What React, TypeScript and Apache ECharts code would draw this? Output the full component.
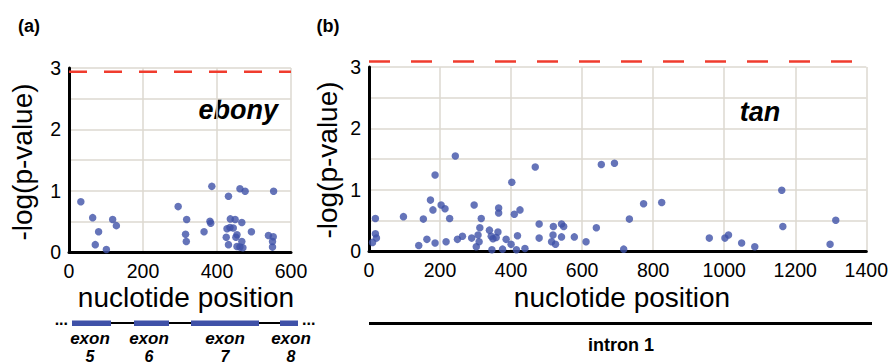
import React, { useEffect, useRef } from "react";
import * as echarts from "echarts";

// ---- data ----
const ebonyPos = [32, 64, 80, 71, 101, 118, 128, 295, 318, 315, 317, 365, 381, 383, 386, 431, 462, 476, 553, 436, 449, 467, 427, 435, 444, 425, 454, 451, 431, 467, 454, 462, 470, 493, 539, 552, 550, 550];
const ebonyLogP = [0.82, 0.56, 0.33, 0.12, 0.04, 0.53, 0.43, 0.74, 0.53, 0.29, 0.17, 0.33, 0.50, 0.47, 1.07, 0.91, 1.03, 0.99, 0.99, 0.54, 0.53, 0.48, 0.38, 0.40, 0.39, 0.24, 0.28, 0.24, 0.12, 0.17, 0.09, 0.08, 0.07, 0.33, 0.27, 0.25, 0.17, 0.08];

const tanPos = [10, 18, 18, 21, 97, 140, 153, 163, 173, 180, 186, 186, 203, 214, 217, 227, 243, 249, 263, 289, 296, 302, 307, 310, 312, 316, 339, 344, 349, 346, 358, 363, 365, 365, 376, 386, 400, 402, 409, 415, 418, 425, 439, 468, 479, 479, 514, 518, 519, 525, 542, 542, 548, 578, 611, 640, 654, 691, 717, 733, 773, 824, 958, 1002, 1012, 1049, 1086, 1162, 1165, 1298, 1314];
const tanLogP = [0.14, 0.53, 0.28, 0.21, 0.56, 0.09, 0.52, 0.19, 0.83, 0.67, 1.24, 0.13, 0.75, 0.69, 0.15, 0.53, 1.55, 0.19, 0.24, 0.21, 0.75, 0.07, 0.26, 0.15, 0.38, 0.53, 0.34, 0.24, 0.20, 0.02, 0.22, 0.31, 0.70, 0.62, 0.03, 0.19, 0.11, 1.12, 0.60, 0.02, 0.25, 0.67, 0.04, 1.37, 0.44, 0.21, 0.15, 0.26, 0.40, 0.11, 0.23, 0.44, 0.40, 0.23, 0.15, 0.38, 1.41, 1.43, 0.03, 0.52, 0.77, 0.79, 0.21, 0.21, 0.26, 0.13, 0.07, 0.99, 0.40, 0.11, 0.50];

const ebonyThreshold = 2.94;
const tanThreshold = 3.09;
const ebonyXMax = 600;
const tanXMax = 1400;
const yMax = 3;
const exonNumbers = ["5", "6", "7", "8"];

const FONT = "'Liberation Sans', Arial, Helvetica, sans-serif";
const DOT = "#3f51a8";
const GRIDC = "#dcd8d1";
const RED = "#f03c2e";

function zip(a: number[], b: number[]) {
  return a.map((v, i) => [v, b[i]]);
}

export default function App() {
  const ref = useRef<HTMLDivElement>(null);
  useEffect(() => {
    if (!ref.current) return;
    const chart = echarts.init(ref.current, undefined, { renderer: "svg" });

    const xAxisBase = (max: number) => ({
      type: "value",
      min: 0,
      max,
      interval: 200,
      axisLine: { show: true, onZero: false, lineStyle: { color: "#000", width: 3 } },
      axisTick: { show: false },
      axisLabel: { color: "#000", fontSize: 19.5, fontFamily: FONT, margin: 9, formatter: (v: number) => String(v) },
      splitLine: { show: true, lineStyle: { color: GRIDC, width: 1.5 } },
    });
    const yAxisBase = () => ({
      type: "value",
      min: 0,
      max: yMax,
      interval: 0.5,
      axisLine: { show: true, onZero: false, lineStyle: { color: "#000", width: 3 } },
      axisTick: { show: false },
      axisLabel: {
        color: "#000",
        fontSize: 19.5,
        fontFamily: FONT,
        margin: 8,
        formatter: (v: number) => (Number.isInteger(v) ? String(v) : ""),
      },
      splitLine: { show: true, lineStyle: { color: GRIDC, width: 1.5 } },
    });

    const thresholdSeries = (xi: number, xmax: number, v: number, dash: number[]) => ({
      type: "line",
      xAxisIndex: xi,
      yAxisIndex: xi,
      clip: false,
      silent: true,
      symbol: "none",
      lineStyle: { color: RED, type: dash, width: 2.5 },
      data: [
        [0, v],
        [xmax, v],
      ],
      z: 5,
    });

    const exonRects: [number, number][] = [
      [72, 111],
      [134, 169],
      [191, 259],
      [280, 298],
    ];
    const exonCenters = [90, 149, 225, 291];

    const graphic: any[] = [
      { type: "text", x: 29, y: 26, style: { text: "(a)", fontSize: 18, fontWeight: "bold", fontFamily: FONT, fill: "#000", align: "center", verticalAlign: "middle" } },
      { type: "text", x: 328, y: 26, style: { text: "(b)", fontSize: 18, fontWeight: "bold", fontFamily: FONT, fill: "#000", align: "center", verticalAlign: "middle" } },
      { type: "text", x: 278, y: 110, style: { text: "ebony", fontSize: 27, fontWeight: "bold", fontStyle: "italic", fontFamily: FONT, fill: "#000", align: "right", verticalAlign: "middle" } },
      { type: "text", x: 760, y: 112, style: { text: "tan", fontSize: 27, fontWeight: "bold", fontStyle: "italic", fontFamily: FONT, fill: "#000", align: "center", verticalAlign: "middle" } },
      { type: "text", x: 22, y: 162, rotation: Math.PI / 2, style: { text: "-log(p-value)", fontSize: 28, fontFamily: FONT, fill: "#000", align: "center", verticalAlign: "middle" } },
      { type: "text", x: 327, y: 160, rotation: Math.PI / 2, style: { text: "-log(p-value)", fontSize: 28, fontFamily: FONT, fill: "#000", align: "center", verticalAlign: "middle" } },
      { type: "text", x: 186, y: 297, style: { text: "nuclotide position", fontSize: 28, fontFamily: FONT, fill: "#000", align: "center", verticalAlign: "middle" } },
      { type: "text", x: 622, y: 297, style: { text: "nuclotide position", fontSize: 28, fontFamily: FONT, fill: "#000", align: "center", verticalAlign: "middle" } },
      // gene diagram (a)
      { type: "line", shape: { x1: 72, y1: 323, x2: 298, y2: 323 }, style: { stroke: "#000", lineWidth: 2 } },
      ...exonRects.map(([a, b]) => ({ type: "rect", shape: { x: a, y: 320.5, width: b - a, height: 5.5 }, style: { fill: DOT } })),
      { type: "text", x: 68, y: 327, style: { text: "...", fontSize: 16, fontWeight: "bold", fontFamily: FONT, fill: "#000", align: "right", verticalAlign: "bottom" } },
      { type: "text", x: 302, y: 327, style: { text: "...", fontSize: 16, fontWeight: "bold", fontFamily: FONT, fill: "#000", align: "left", verticalAlign: "bottom" } },
      ...exonCenters.map((cx) => ({
        type: "text",
        x: cx,
        y: 338,
        style: { text: "exon", fontSize: 17, fontWeight: "bold", fontStyle: "italic", fontFamily: FONT, fill: "#000", align: "center", verticalAlign: "middle" },
      })),
      ...exonCenters.map((cx, i) => ({
        type: "text",
        x: cx,
        y: 356,
        style: { text: exonNumbers[i], fontSize: 16, fontWeight: "bold", fontStyle: "italic", fontFamily: FONT, fill: "#000", align: "center", verticalAlign: "middle" },
      })),
      // intron line (b)
      { type: "line", shape: { x1: 369, y1: 323.5, x2: 872, y2: 323.5 }, style: { stroke: "#000", lineWidth: 3 } },
      { type: "text", x: 621, y: 345, style: { text: "intron 1", fontSize: 18, fontWeight: "bold", fontFamily: FONT, fill: "#000", align: "center", verticalAlign: "middle" } },
    ];

    chart.setOption({
      animation: false,
      backgroundColor: "#fff",
      textStyle: { fontFamily: FONT },
      grid: [
        { left: 69, top: 68, width: 222, height: 184 },
        { left: 369, top: 67, width: 502, height: 184 },
      ],
      xAxis: [
        { ...xAxisBase(ebonyXMax), gridIndex: 0 },
        { ...xAxisBase(tanXMax), gridIndex: 1 },
      ],
      yAxis: [
        { ...yAxisBase(), gridIndex: 0 },
        { ...yAxisBase(), gridIndex: 1 },
      ],
      series: [
        {
          type: "scatter",
          xAxisIndex: 0,
          yAxisIndex: 0,
          clip: false,
          symbolSize: 7.5,
          itemStyle: { color: DOT },
          data: zip(ebonyPos, ebonyLogP),
        },
        {
          type: "scatter",
          xAxisIndex: 1,
          yAxisIndex: 1,
          clip: false,
          symbolSize: 7.5,
          itemStyle: { color: DOT },
          data: zip(tanPos, tanLogP),
        },
        thresholdSeries(0, ebonyXMax, ebonyThreshold, [18, 17]),
        thresholdSeries(1, tanXMax, tanThreshold, [21, 21]),
      ],
      graphic,
    });
    return () => chart.dispose();
  }, []);
  return <div ref={ref} style={{ position: "absolute", left: 0, top: 0, width: 891, height: 364 }} />;
}
